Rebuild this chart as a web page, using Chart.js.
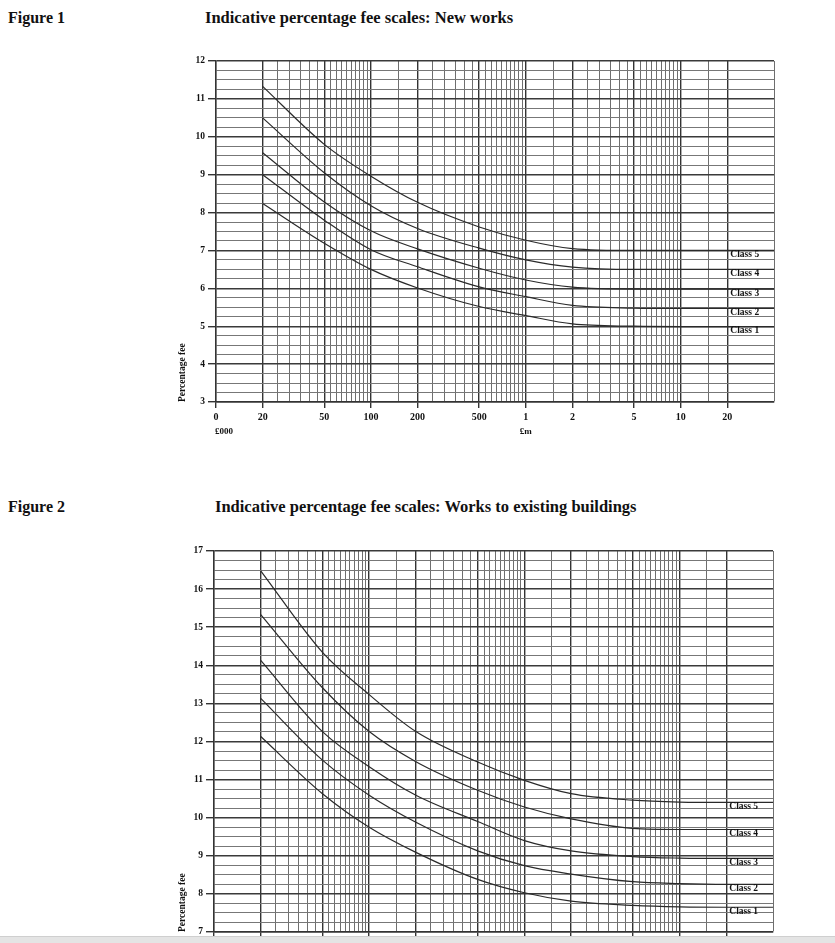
<!DOCTYPE html>
<html>
<head>
<meta charset="utf-8">
<script src="https://cdn.jsdelivr.net/npm/chart.js@4.4.1/dist/chart.umd.min.js"></script>
<style>
  html, body { margin: 0; padding: 0; background: #fff; }
  #page { position: relative; width: 835px; height: 943px; overflow: hidden; font-family: "Liberation Serif", "Times New Roman", serif; color: #111; }
  .fig { position: absolute; left: 8px; font-weight: bold; font-size: 16px; line-height: 1; }
  .title { position: absolute; font-weight: bold; font-size: 16.5px; line-height: 1; }
  canvas { position: absolute; }
  #foot { position: absolute; left: 0; top: 936px; width: 835px; height: 7px; background: #e4e4e4; border-top: 1px solid #cfcfcf; }
</style>
</head>
<body>
<div id="page">
  <div class="fig" style="top:10px">Figure 1</div>
  <div class="title" style="left:205px;top:10px">Indicative percentage fee scales: New works</div>
  <canvas id="chart1" width="640" height="400" style="left:150px;top:50px"></canvas>

  <div class="fig" style="top:499px">Figure 2</div>
  <div class="title" style="left:215px;top:499px">Indicative percentage fee scales: Works to existing buildings</div>
  <canvas id="chart2" width="640" height="440" style="left:150px;top:540px"></canvas>
  <div id="foot"></div>
</div>
<script>
// construction cost, in £000
const costs = [20, 50, 100, 200, 500, 1000, 2000, 5000, 10000, 20000, 40000];
const classNames = ['Class 1', 'Class 2', 'Class 3', 'Class 4', 'Class 5'];

// Figure 1 - new works (percentage fee)
const newClass1 = [8.24, 7.19, 6.50, 6.01, 5.52, 5.28, 5.06, 5.00, 4.99, 4.99, 4.99];
const newClass2 = [9.00, 7.80, 7.02, 6.57, 6.04, 5.78, 5.55, 5.48, 5.47, 5.47, 5.47];
const newClass3 = [9.58, 8.28, 7.52, 7.04, 6.53, 6.22, 6.03, 5.98, 5.98, 5.98, 5.98];
const newClass4 = [10.50, 9.05, 8.18, 7.58, 7.06, 6.75, 6.56, 6.50, 6.50, 6.50, 6.50];
const newClass5 = [11.33, 9.80, 8.96, 8.27, 7.62, 7.27, 7.05, 7.00, 7.00, 7.00, 7.00];

// Figure 2 - works to existing buildings
const oldClass1 = [12.13, 10.63, 9.75, 9.09, 8.38, 8.03, 7.81, 7.70, 7.66, 7.65, 7.65];
const oldClass2 = [13.13, 11.51, 10.59, 9.88, 9.13, 8.74, 8.52, 8.32, 8.27, 8.25, 8.25];
const oldClass3 = [14.13, 12.26, 11.34, 10.59, 9.90, 9.40, 9.13, 8.98, 8.94, 8.93, 8.93];
const oldClass4 = [15.33, 13.41, 12.26, 11.47, 10.72, 10.28, 9.97, 9.72, 9.69, 9.69, 9.69];
const oldClass5 = [16.48, 14.34, 13.23, 12.26, 11.46, 10.98, 10.63, 10.46, 10.41, 10.40, 10.40];

// x tick labels (value in £000 -> text)
const xTickLabels = { 10: '0', 20: '20', 50: '50', 100: '100', 200: '200', 500: '500',
  1000: '1', 2000: '2', 5000: '5', 10000: '10', 20000: '20' };
// graph paper rulings: [from, to, step]
const gridRuns = [[20, 100, 5], [150, 150, 1], [200, 1000, 50], [1500, 1500, 1],
  [2000, 10000, 500], [15000, 20000, 5000], [40000, 40000, 1]];

const FONT = '"Liberation Serif", "Times New Roman", serif';

function xGrid() {
  const v = [10];
  gridRuns.forEach(([a, b, s]) => {
    for (let x = a; x <= b; x += s) if (!v.includes(x)) v.push(x);
  });
  return v;
}

function yGrid(min, max) {
  const v = [];
  for (let y = min; y <= max; y += 0.25) v.push(y);
  return v;
}

const classLabels = {
  id: 'classLabels',
  afterDatasetsDraw(chart) {
    const { ctx, scales: { x, y } } = chart;
    ctx.save();
    ctx.font = 'bold 9.5px ' + FONT;
    ctx.fillStyle = '#111';
    ctx.textBaseline = 'middle';
    ctx.textAlign = 'left';
    chart.data.datasets.forEach(ds => {
      const last = ds.data[ds.data.length - 1];
      ctx.fillText(ds.label, x.getPixelForValue(20000) + 3, y.getPixelForValue(last.y) + 4);
    });
    ctx.restore();
  }
};

const unitLabels = {
  id: 'unitLabels',
  afterDraw(chart) {
    const { ctx, scales: { x } } = chart;
    ctx.save();
    ctx.font = 'bold 9px ' + FONT;
    ctx.fillStyle = '#111';
    ctx.textBaseline = 'middle';
    ctx.textAlign = 'left';
    ctx.fillText('£000', x.getPixelForValue(10) - 1, x.top + 30);
    ctx.textAlign = 'center';
    ctx.fillText('£m', x.getPixelForValue(1000), x.top + 30);
    ctx.restore();
  }
};

function makeChart(id, series, yMin, yMax, yWidth, padRight) {
  const datasets = series.map((vals, i) => ({
    label: classNames[i],
    data: costs.map((c, j) => ({ x: c, y: vals[j] })),
    borderColor: '#2a2a2a',
    borderWidth: 1.2,
    pointRadius: 0,
    fill: false,
    cubicInterpolationMode: 'monotone'
  }));

  return new Chart(document.getElementById(id), {
    type: 'line',
    data: { datasets },
    plugins: [classLabels, unitLabels],
    options: {
      responsive: false,
      animation: false,
      layout: { padding: { top: 11, right: padRight, left: 0, bottom: 0 } },
      plugins: { legend: { display: false }, tooltip: { enabled: false } },
      scales: {
        x: {
          type: 'logarithmic',
          min: 10,
          max: 40000,
          afterBuildTicks: s => { s.ticks = xGrid().map(v => ({ value: v })); },
          afterFit: s => { s.height = 48; },
          ticks: {
            autoSkip: false,
            maxRotation: 0,
            padding: 3,
            color: '#111',
            font: { family: FONT, size: 10, weight: 'bold' },
            callback: v => xTickLabels[v] ?? ''
          },
          grid: {
            color: c => (xTickLabels[c.tick.value] !== undefined ? '#333' : '#6e6e6e'),
            lineWidth: c => (xTickLabels[c.tick.value] !== undefined ? 1.4 : 1),
            tickLength: 6,
            tickColor: c => (xTickLabels[c.tick.value] !== undefined ? '#333' : 'rgba(0,0,0,0)')
          },
          border: { color: '#333', width: 1.4 }
        },
        y: {
          min: yMin,
          max: yMax,
          afterBuildTicks: s => { s.ticks = yGrid(yMin, yMax).map(v => ({ value: v })); },
          afterFit: s => { s.width = yWidth; },
          ticks: {
            autoSkip: false,
            padding: 3,
            color: '#111',
            font: { family: FONT, size: 9.5, weight: 'bold' },
            callback: v => (Number.isInteger(v) ? String(v) : '')
          },
          grid: {
            color: c => (Number.isInteger(c.tick.value) ? '#3a3a3a' : '#777'),
            lineWidth: c => (Number.isInteger(c.tick.value) ? 1.4 : 1),
            tickLength: 8,
            tickColor: c => (Number.isInteger(c.tick.value) ? '#333' : 'rgba(0,0,0,0)')
          },
          border: { color: '#333', width: 1.4 },
          title: {
            display: true,
            text: 'Percentage fee',
            align: 'start',
            color: '#111',
            font: { family: FONT, size: 9.5, weight: 'bold' },
            padding: { top: 27, bottom: 0 }
          }
        }
      }
    }
  });
}

makeChart('chart1', [newClass1, newClass2, newClass3, newClass4, newClass5], 3, 12, 66, 16);
makeChart('chart2', [oldClass1, oldClass2, oldClass3, oldClass4, oldClass5], 7, 17, 64, 17);
</script>
</body>
</html>
